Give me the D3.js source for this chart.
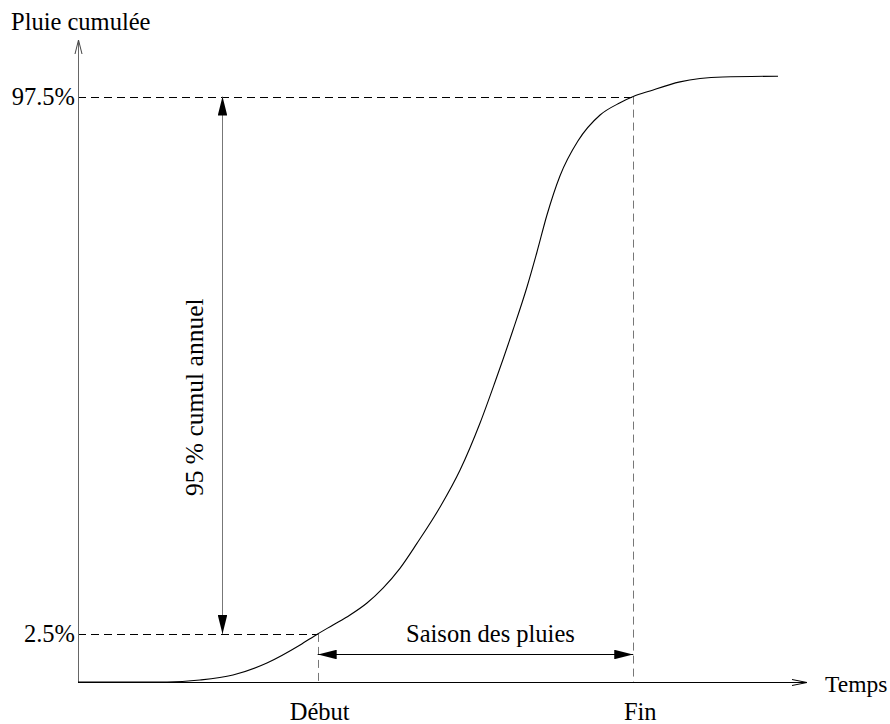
<!DOCTYPE html>
<html>
<head>
<meta charset="utf-8">
<script src="https://cdn.jsdelivr.net/npm/d3@7"></script>
<style>
  html, body { margin: 0; padding: 0; background: #fff; }
  svg { display: block; }
  text { font-family: "Liberation Serif", "Times New Roman", serif; font-size: 24.5px; fill: #000; }
</style>
</head>
<body>
<svg id="chart" width="890" height="724"></svg>
<script>
// ---- Data (schematic cumulative rainfall over the year) ----
const days = [0, 44.6, 61.1, 77.6, 94.6, 111.2, 120, 127.7, 136.2, 144.7, 152.7, 161.2, 169.7, 181.3, 191.3, 201.3, 208.8, 217.8, 224.8, 229.8, 234.8, 241.3, 250.3, 261.4, 271.4, 278, 286.4, 301.4, 322.9, 350.5];
const cumul = [-6, -6, -5.65, -4.76, -2.64, 0.54, 2.5, 4.08, 5.85, 7.97, 10.6, 14.1, 18.5, 24.94, 31.48, 39.79, 47.04, 56.23, 63.83, 70.02, 76.56, 83.46, 89.64, 94.24, 96.4, 97.5, 98.5, 100.1, 100.96, 101.1];
const yTickValues = [2.5, 97.5];
const yTickLabels = ["2.5%", "97.5%"];
const xMarkDays = [120, 278];
const xMarkLabels = ["Début", "Fin"];
const axisTitles = { x: "Temps", y: "Pluie cumulée" };
const spanLabel = "95 % cumul annuel";
const seasonLabel = "Saison des pluies";

const svg = d3.select("#chart");
const x = d3.scaleLinear().domain([0, 365]).range([78, 807]);
const y = d3.scaleLinear().domain([-6, 107.5]).range([682, 40]);

const defs = svg.append("defs");
defs.append("marker")
  .attr("id", "head")
  .attr("markerUnits", "userSpaceOnUse")
  .attr("viewBox", "0 0 20 10")
  .attr("refX", 20).attr("refY", 5)
  .attr("markerWidth", 19).attr("markerHeight", 9.5)
  .attr("orient", "auto-start-reverse")
  .append("path").attr("d", "M0,0 L20,5 L0,10 Z").attr("fill", "#000");

const x0 = x(0), yBase = y(-6);
const crisp = v => Math.round(v) + 0.5;

// ---- Dashed reference lines ----
yTickValues.forEach((v, i) => {
  svg.append("line")
    .attr("x1", x0).attr("x2", x(xMarkDays[i]))
    .attr("y1", crisp(y(v))).attr("y2", crisp(y(v)))
    .attr("stroke", "#000").attr("stroke-width", 1).attr("stroke-dasharray", "8,5");
  svg.append("line")
    .attr("x1", crisp(x(xMarkDays[i]))).attr("x2", crisp(x(xMarkDays[i])))
    .attr("y1", y(v)).attr("y2", yBase)
    .attr("stroke", "#777").attr("stroke-width", 1).attr("stroke-dasharray", "8,5");
});

// ---- Axes ----
svg.append("line")
  .attr("x1", crisp(x0)).attr("x2", crisp(x0))
  .attr("y1", yBase).attr("y2", y(107.5))
  .attr("stroke", "#666").attr("stroke-width", 1);
svg.append("path")
  .attr("d", `M${crisp(x0) - 3.5},${y(107.5) + 14} L${crisp(x0)},${y(107.5)} L${crisp(x0) + 3.5},${y(107.5) + 14}`)
  .attr("fill", "none").attr("stroke", "#444").attr("stroke-width", 1);
svg.append("line")
  .attr("x1", x0).attr("x2", x(365))
  .attr("y1", crisp(yBase)).attr("y2", crisp(yBase))
  .attr("stroke", "#000").attr("stroke-width", 1);
svg.append("path")
  .attr("d", `M${x(365) - 15},${crisp(yBase) - 3} L${x(365)},${crisp(yBase)} L${x(365) - 15},${crisp(yBase) + 3}`)
  .attr("fill", "none").attr("stroke", "#000").attr("stroke-width", 1);

// ---- Curve ----
const pts = days.map((d, i) => [d, cumul[i]]);
svg.append("path")
  .datum(pts)
  .attr("d", d3.line().x(d => x(d[0])).y(d => y(d[1])).curve(d3.curveMonotoneX))
  .attr("fill", "none").attr("stroke", "#000").attr("stroke-width", 1.1);

// ---- Annotation arrows ----
const arrowDay = 72;
svg.append("line")
  .attr("x1", crisp(x(arrowDay))).attr("x2", crisp(x(arrowDay)))
  .attr("y1", y(yTickValues[1])).attr("y2", y(yTickValues[0]))
  .attr("stroke", "#777").attr("stroke-width", 1)
  .attr("marker-start", "url(#head)").attr("marker-end", "url(#head)");
svg.append("text")
  .attr("transform", `translate(${x(arrowDay) - 19},${(y(yTickValues[0]) + y(yTickValues[1])) / 2 + 32}) rotate(-90)`)
  .attr("text-anchor", "middle")
  .style("font-size", "25.5px")
  .text(spanLabel);

const arrowVal = -1;
svg.append("line")
  .attr("x1", x(xMarkDays[0])).attr("x2", x(xMarkDays[1]))
  .attr("y1", crisp(y(arrowVal))).attr("y2", crisp(y(arrowVal)))
  .attr("stroke", "#000").attr("stroke-width", 1)
  .attr("marker-start", "url(#head)").attr("marker-end", "url(#head)");
svg.append("text")
  .attr("x", (x(xMarkDays[0]) + x(xMarkDays[1])) / 2 + 15)
  .attr("y", y(arrowVal) - 12)
  .attr("text-anchor", "middle")
  .text(seasonLabel);

// ---- Tick labels ----
yTickValues.forEach((v, i) => {
  svg.append("text")
    .attr("x", x0 - 3).attr("y", y(v) + 8.5)
    .attr("text-anchor", "end")
    .text(yTickLabels[i]);
});
xMarkDays.forEach((d, i) => {
  svg.append("text")
    .attr("x", x(d) + (i === 0 ? 2 : 7)).attr("y", 720)
    .attr("text-anchor", "middle")
    .text(xMarkLabels[i]);
});

// ---- Axis titles ----
svg.append("text").attr("x", 11).attr("y", 30).text(axisTitles.y);
svg.append("text").attr("x", x(365) + 18).attr("y", 692)
  .style("font-size", "23.5px").text(axisTitles.x);
</script>
</body>
</html>
